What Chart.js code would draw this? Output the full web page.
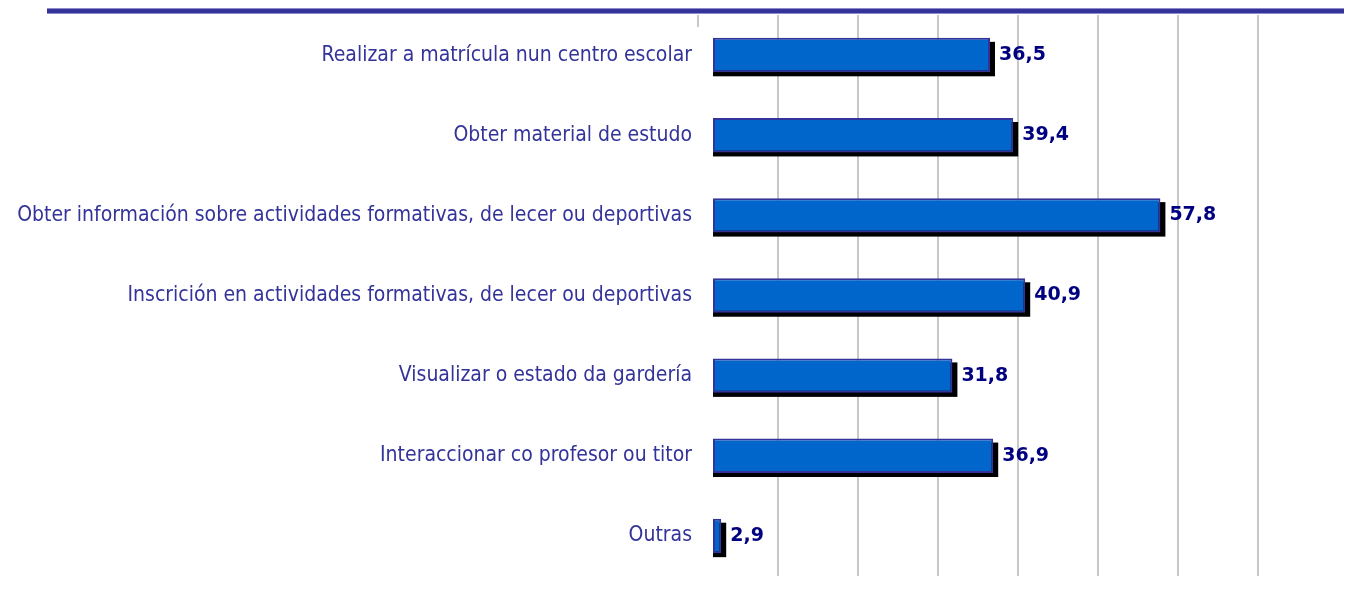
<!DOCTYPE html>
<html>
<head>
<meta charset="utf-8">
<script src="https://cdn.jsdelivr.net/npm/chart.js@4.4.0/dist/chart.umd.min.js"></script>
<style>
html,body{margin:0;padding:0;background:#fff;}
#wrap{position:relative;width:1349px;height:593px;}
#topline{position:absolute;left:47px;top:8px;width:1297px;height:4px;background:#333399;border-top:1px solid #8c8cc8;border-bottom:1px solid #8c8cc8;}
</style>
</head>
<body>
<div id="wrap">
<canvas id="chart" width="1349" height="593"></canvas>
<div id="topline"></div>
</div>
<script>
// Data
const categories=[
"Realizar a matrícula nun centro escolar",
"Obter material de estudo",
"Obter información sobre actividades formativas, de lecer ou deportivas",
"Inscrición en actividades formativas, de lecer ou deportivas",
"Visualizar o estado da gardería",
"Interaccionar co profesor ou titor",
"Outras"
];
const values=[36.5,39.4,57.8,40.9,31.8,36.9,2.9];
const axisMin=0, axisMax=80, axisStep=10;

// bar shadow + zero tick
const shadowPlugin={
id:"shadow",
beforeDatasetsDraw(chart){
const ctx=chart.ctx;
const meta=chart.getDatasetMeta(0);
ctx.save();
ctx.fillStyle="#000";
meta.data.forEach(bar=>{
const p=bar.getProps(["x","y","base","height"],true);
ctx.fillRect(p.base,p.y-p.height/2+4,p.x-p.base+5,p.height);
});
// little tick at zero, top only
const x0=chart.scales.x.getPixelForValue(0);
ctx.strokeStyle="#c8c8c8";
ctx.lineWidth=2;
ctx.beginPath();
ctx.moveTo(x0,chart.chartArea.top);
ctx.lineTo(x0,chart.chartArea.top+12);
ctx.stroke();
ctx.restore();
},
afterDatasetsDraw(chart){
const ctx=chart.ctx;
const meta=chart.getDatasetMeta(0);
ctx.save();
ctx.font="bold 19px 'DejaVu Sans'";
ctx.fillStyle="#000080";
ctx.textAlign="left";
ctx.textBaseline="middle";
meta.data.forEach((bar,i)=>{
const p=bar.getProps(["x","y"],true);
ctx.fillText(values[i].toFixed(1).replace(".",","),p.x+9,p.y);
});
ctx.restore();
}
};

new Chart(document.getElementById("chart"),{
type:"bar",
data:{
labels:categories,
datasets:[{
data:values,
base:1.875,
backgroundColor:"#0066cc",
borderColor:"#333399",
borderWidth:2,
borderSkipped:false,
categoryPercentage:1,
barPercentage:0.43
}]
},
options:{
indexAxis:"y",
responsive:false,
animation:false,
layout:{padding:{top:15,bottom:17,right:11,left:0}},
plugins:{legend:{display:false},tooltip:{enabled:false}},
scales:{
x:{
min:axisMin,max:axisMax,
ticks:{display:false,stepSize:axisStep},
border:{display:false},
grid:{
drawTicks:false,
lineWidth:2,
color:c=>(c.tick&&c.tick.value>axisMin&&c.tick.value<axisMax)?"#c8c8c8":"rgba(0,0,0,0)"
}
},
y:{
border:{display:false},
grid:{display:false,drawTicks:false},
ticks:{color:"#333399",font:{family:"DejaVu Sans Condensed",size:21},padding:6},
afterFit(scale){scale.width=698;scale.paddingTop=0;scale.paddingBottom=0;}
}
}
},
plugins:[shadowPlugin]
});
</script>
</body>
</html>
